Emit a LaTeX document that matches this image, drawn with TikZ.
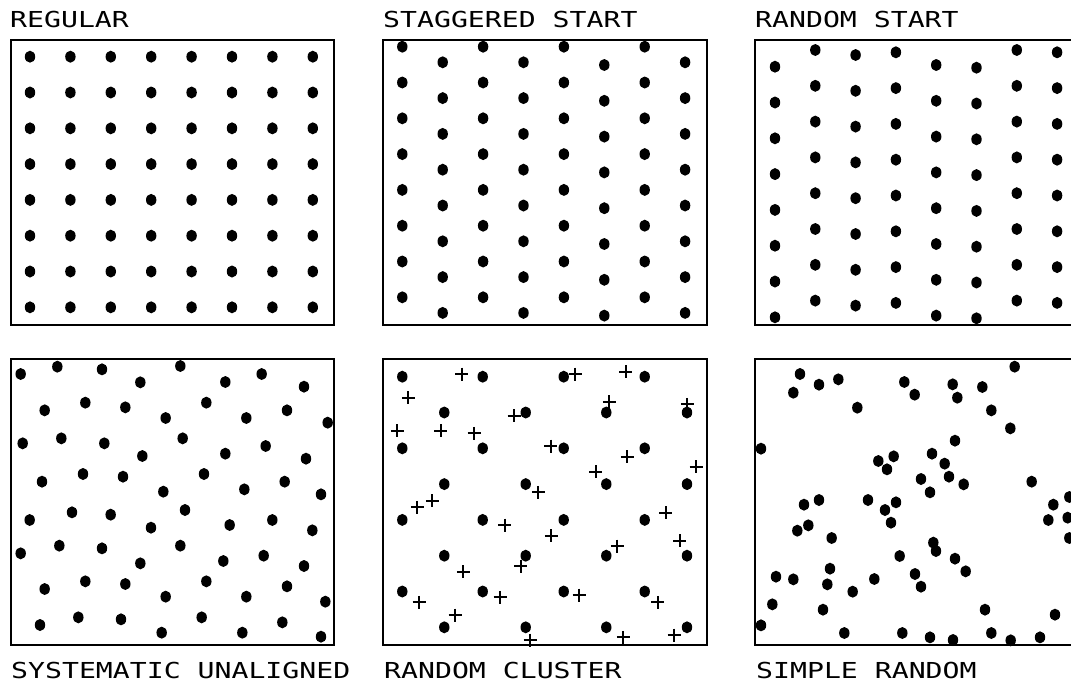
\documentclass[tikz,border=0pt]{standalone}
\usepackage{fontspec}
\newfontfamily\lblfont[FakeStretch=1.28]{DejaVu Sans Mono}
\begin{document}
\begin{tikzpicture}[x=1pt,y=-1pt,
  frame/.style={draw=black,line width=2.5pt},
  dot/.style={fill=black},
  crossmark/.style={draw=black,line width=1.9pt},
  lbl/.style={anchor=base west,inner sep=0pt,font=\lblfont\fontsize{22}{22}\selectfont}]
\clip (0,0) rectangle (1071,683);
\fill[white] (0,0) rectangle (1071,683);
% labels
\node[lbl] (t1) at (10,27) {REGULAR};
\node[lbl] (t2) at (383,27) {STAGGERED START};
\node[lbl] (t3) at (755,27) {RANDOM START};
\node[lbl] (b1) at (11,678) {SYSTEMATIC UNALIGNED};
\node[lbl] (b2) at (384,678) {RANDOM CLUSTER};
\node[lbl] (b3) at (756,678) {SIMPLE RANDOM};
% frames
\draw[frame] (11,40) rectangle (334,325);
\draw[frame] (383,40) rectangle (707,325);
\draw[frame] (755,40) rectangle (1100,325);
\draw[frame] (11,359) rectangle (334,645);
\draw[frame] (383,359) rectangle (707,645);
\draw[frame] (755,359) rectangle (1100,645);
% regular
\foreach \i in {0,...,7} \foreach \j in {0,...,7}
  \fill[dot] ({30+40.4*\i},{56.7+35.8*\j}) ellipse[x radius=5.2,y radius=6];
% staggered start
\foreach \i/\yo in {0/46.7,1/62.3,2/46.7,3/62.3,4/46.7,5/65,6/46.7,7/62.3}
  \foreach \j in {0,...,7}
    \fill[dot] ({402.3+40.4*\i},{\yo+35.8*\j}) ellipse[x radius=5.2,y radius=6];
% random start
\foreach \i/\yo in {0/66.7,1/50,2/55,3/52.3,4/65,5/67.7,6/50,7/52.3}
  \foreach \j in {0,...,7}
    \fill[dot] ({775+40.3*\i},{\yo+35.8*\j}) ellipse[x radius=5.2,y radius=6];
% systematic unaligned
\foreach \a/\b in {62/72,172/50,306/58,421/97,541/48,676/96,785/72,912/110,
134/181,256/158,376/172,497/204,619/158,739/204,861/181,983/218,
68/280,184/265,313/280,427/318,548/265,676/311,797/288,918/326,
126/395,249/372,369/380,490/425,612/372,733/418,854/395,963/433,
89/510,216/487,332/494,453/533,555/480,689/525,817/510,937/541,
62/610,178/587,306/595,421/640,541/587,670/633,791/617,912/648,
134/717,256/694,376/702,497/740,619/694,739/740,861/709,976/755,
120/825,235/802,363/808,485/848,605/802,727/848,847/817,963/860}
  \fill[dot] ({\a/3},{350+\b/3}) ellipse[x radius=5.2,y radius=6];
% random cluster: dots
\foreach \r in {0,2,4,6} \foreach \x in {402.3,482.7,563.7,644.7}
  \fill[dot] (\x,{376.7+35.8*\r}) ellipse[x radius=5.2,y radius=6];
\foreach \r in {1,3,5,7} \foreach \x in {444.3,525.7,606.3,687}
  \fill[dot] (\x,{376.7+35.8*\r}) ellipse[x radius=5.2,y radius=6];
% random cluster: crosses
\foreach \a/\b in {260/72,600/72,752/65,100/143,703/155,937/163,417/197,67/242,
197/242,297/250,527/288,757/320,963/350,662/365,490/427,172/452,127/472,872/488,
389/525,529/557,914/572,727/588,437/648,265/665,132/757,375/742,612/735,848/757,
240/795,465/870,745/862,897/855}
  \draw[crossmark] ({375+\a/3-6.5},{350+\b/3}) -- ++(13,0)
                   ({375+\a/3},{350+\b/3-6.5}) -- ++(0,13);
% simple random
\foreach \a/\b in {165/72,145/128,222/104,280/88,337/173,478/96,509/134,623/103,
637/143,712/111,739/181,809/50,796/235,48/296,630/272,400/333,446/319,426/358,
561/311,599/341,612/380,528/387,555/427,656/403,860/395,177/464,222/450,369/450,
420/480,453/457,438/518,190/526,157/542,260/564,973/441,925/464,910/510,968/503,
973/564,565/578,573/603,464/618,630/626,662/664,255/656,93/680,145/688,247/703,
388/687,510/672,528/710,323/725,82/763,234/779,720/779,930/794,48/826,298/849,
472/849,555/862,624/870,739/849,797/871,885/862}
  \fill[dot] ({745+\a/3},{350+\b/3}) ellipse[x radius=5.2,y radius=6];
\end{tikzpicture}
\end{document}
